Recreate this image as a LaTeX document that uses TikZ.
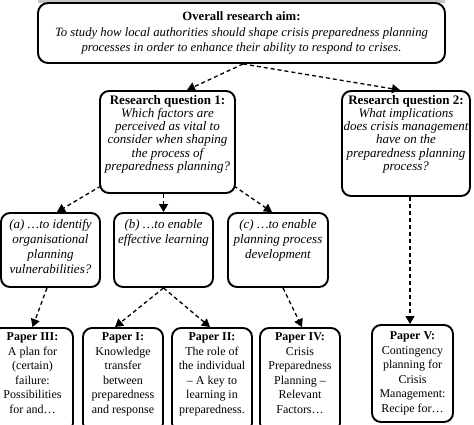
\documentclass[tikz,border=0pt]{standalone}
\usepackage{fontspec}
\setmainfont{Liberation Serif}
\usetikzlibrary{arrows.meta,calc}
\begin{document}
\begin{tikzpicture}[x=1pt,y=-1pt,
  box/.style={draw, line width=1.9pt, rounded corners=9pt, inner sep=0pt, align=center, fill=white},
  conn/.style={line width=1.3pt, dash pattern=on 4pt off 3pt, -{Triangle[length=8pt,width=9pt]}},
  txt/.style={font=\fontsize{12.7}{15.5}\selectfont},
  qtxt/.style={font=\fontsize{13}{15}\selectfont},
  ptxt/.style={font=\fontsize{12}{14.5}\selectfont},
]
\useasboundingbox (0,0) rectangle (474,424);
\fill[gray!45] (38,0) rectangle (445,3);

\node[box, txt, rounded corners=10pt, minimum width=407pt, minimum height=60pt] (aim) at (241.5,33)
  {\textbf{Overall research aim:}\\ \textit{To study how local authorities should shape crisis preparedness planning}\\ \textit{processes in order to enhance their ability to respond to crises.}};

\node[box, minimum width=135pt, minimum height=102pt] (rq1) at (167.5,142)
  {\parbox[c][94pt][t]{133pt}{\centering\fontsize{13}{13.3}\selectfont\textbf{Research question 1:}\\ \itshape Which factors are\\ perceived as vital to\\ consider when shaping\\ the process of\\ preparedness planning?}};
\node[box, minimum width=128pt, minimum height=105pt] (rq2) at (406,143.5)
  {\parbox[c][97pt][t]{126pt}{\centering\fontsize{13}{13.3}\selectfont\textbf{Research question 2:}\\ \itshape What implications\\ does crisis management\\ have on the\\ preparedness planning\\ process?}};

\node[box, qtxt, minimum width=99pt, minimum height=74pt] (qa) at (50.5,250)
  {\parbox[c][62pt][t]{97pt}{\centering\itshape (a) \ldots to identify\\ organisational\\ planning\\ vulnerabilities?}};
\node[box, qtxt, minimum width=99pt, minimum height=74pt] (qb) at (163.5,250)
  {\parbox[c][62pt][t]{97pt}{\centering\itshape (b) \ldots to enable\\ effective learning}};
\node[box, qtxt, minimum width=100pt, minimum height=74pt] (qc) at (278,250)
  {\parbox[c][62pt][t]{98pt}{\centering\itshape (c) \ldots to enable\\ planning process\\ development}};

\node[box, ptxt, minimum width=81pt, minimum height=104pt] (p3) at (32.5,380)
  {\parbox[c][94pt][t]{79pt}{\centering\textbf{Paper III:}\\ A plan for\\ (certain)\\ failure:\\ Possibilities\\ for and\ldots}};
\node[box, ptxt, minimum width=80pt, minimum height=104pt] (p1) at (123,380)
  {\parbox[c][94pt][t]{78pt}{\centering\textbf{Paper I:}\\ Knowledge\\ transfer\\ between\\ preparedness\\ and response}};
\node[box, ptxt, minimum width=80pt, minimum height=104pt] (p2) at (212,380)
  {\parbox[c][94pt][t]{78pt}{\centering\textbf{Paper II:}\\ The role of\\ the individual\\ -- A key to\\ learning in\\ preparedness.}};
\node[box, ptxt, minimum width=80pt, minimum height=104pt] (p4) at (300,380)
  {\parbox[c][94pt][t]{78pt}{\centering\textbf{Paper IV:}\\ Crisis\\ Preparedness\\ Planning --\\ Relevant\\ Factors\ldots}};
\node[box, ptxt, minimum width=81pt, minimum height=97pt] (p5) at (412.5,373.5)
  {\textbf{Paper V:}\\ Contingency\\ planning for\\ Crisis\\ Management:\\ Recipe for\ldots};

\draw[conn] ([xshift=1.5pt]aim.south) -- ([xshift=19.5pt]rq1.north);
\draw[conn] ([xshift=1.5pt]aim.south) -- ([xshift=-6pt]rq2.north);
\draw[conn] ([xshift=2pt,yshift=8pt]rq1.south west) -- ([xshift=6.5pt]qa.north);
\draw[conn] (qb.north |- rq1.south) -- (qb.north);
\draw[conn] ([xshift=-2pt,yshift=8pt]rq1.south east) -- ([xshift=-6pt]qc.north);
\draw[conn] ([xshift=-3.5pt]qa.south) -- (p3.north);
\draw[conn] (qb.south) -- ([xshift=-8pt]p1.north);
\draw[conn] (qb.south) -- ([xshift=-2pt]p2.north);
\draw[conn] ([xshift=5pt]qc.south) -- ([xshift=2pt]p4.north);
\draw[conn] ([xshift=-2.5pt]p5.north |- rq2.south) -- ([xshift=-2.5pt]p5.north);
\end{tikzpicture}
\end{document}
